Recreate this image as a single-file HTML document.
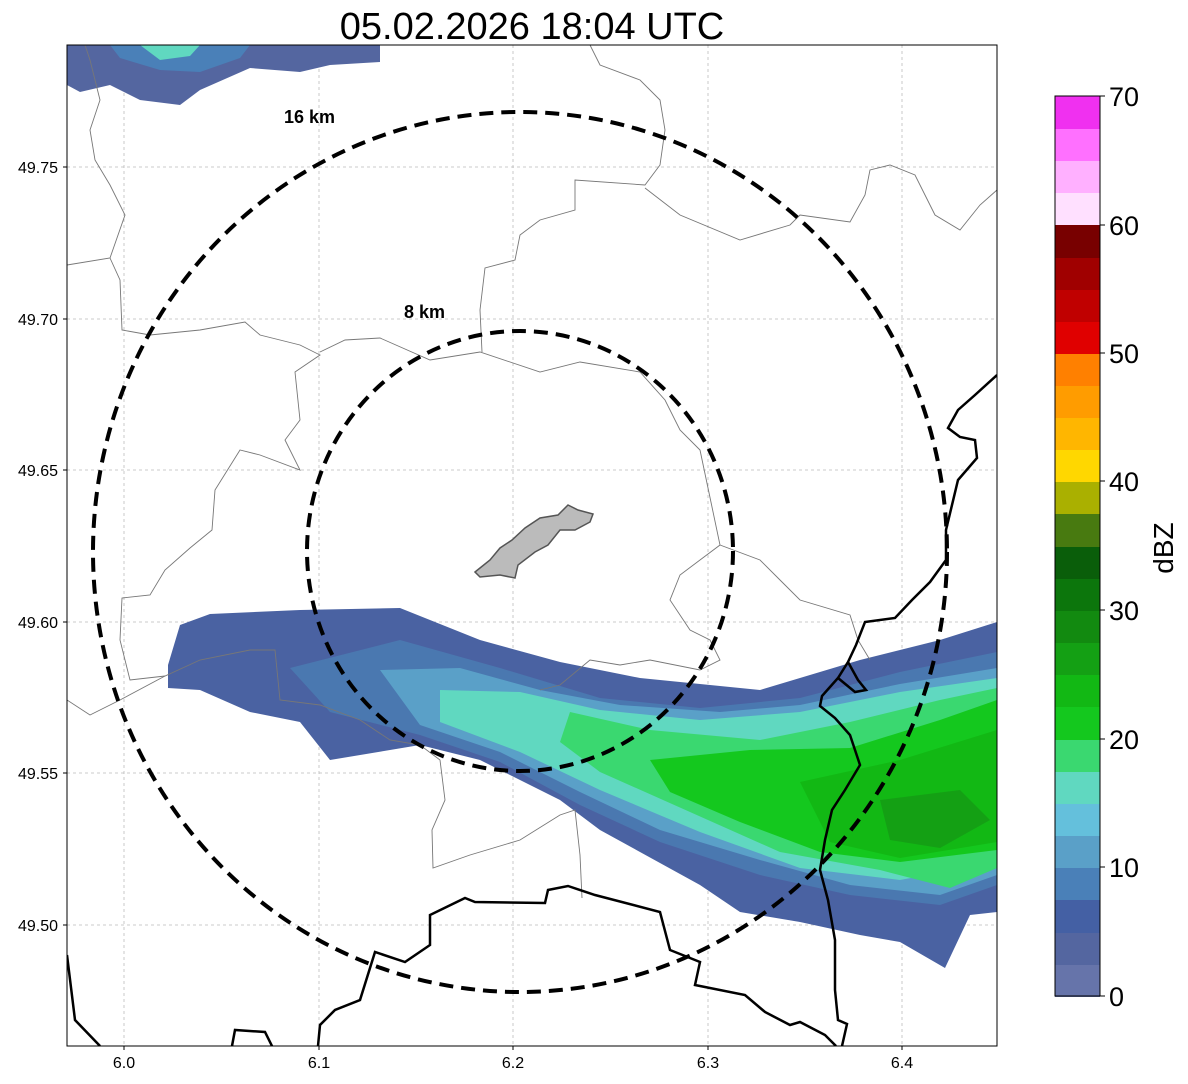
<!DOCTYPE html>
<html><head><meta charset="utf-8"><style>
html,body{margin:0;padding:0;background:#fff;}
svg{display:block;font-family:"Liberation Sans","DejaVu Sans",sans-serif;}
</style></head><body>
<svg width="1188" height="1084" viewBox="0 0 1188 1084" xmlns="http://www.w3.org/2000/svg">
<rect width="1188" height="1084" fill="#fff"/>
<text x="532" y="39" font-size="38" text-anchor="middle" fill="#000">05.02.2026 18:04 UTC</text>
<defs><clipPath id="c"><rect x="67" y="45" width="930" height="1001"/></clipPath></defs>
<g clip-path="url(#c)">
<g stroke="#bbb" stroke-width="0.8" stroke-dasharray="3,3">
<line x1="124" y1="45" x2="124" y2="1046"/><line x1="319" y1="45" x2="319" y2="1046"/><line x1="513" y1="45" x2="513" y2="1046"/><line x1="708" y1="45" x2="708" y2="1046"/><line x1="902" y1="45" x2="902" y2="1046"/>
<line x1="67" y1="167" x2="997" y2="167"/><line x1="67" y1="319" x2="997" y2="319"/><line x1="67" y1="470" x2="997" y2="470"/><line x1="67" y1="622" x2="997" y2="622"/><line x1="67" y1="773" x2="997" y2="773"/><line x1="67" y1="925" x2="997" y2="925"/>
</g>
<polygon points="67,45 380,45 380,62 330,65 300,72 250,68 200,90 180,105 140,100 110,85 80,92 67,85" fill="#5466a0"/>
<polygon points="110,45 250,45 240,58 200,72 160,70 120,58" fill="#4a80b8"/>
<polygon points="140,45 200,45 190,56 160,60" fill="#60d8c0"/>
<polygon points="168,665 180,625 210,614 300,610 400,608 480,640 560,662 640,678 760,690 860,660 940,640 997,622 997,912 970,915 945,968 900,942 860,935 800,922 740,912 700,885 600,830 560,800 480,760 420,745 330,760 300,722 250,712 200,690 168,688" fill="#4a62a2"/>
<polygon points="290,668 400,640 500,668 600,698 700,708 800,698 900,672 997,652 997,885 940,905 850,895 760,875 660,842 580,805 500,762 420,735 330,712" fill="#4a78b0"/>
<polygon points="380,670 460,668 540,690 620,705 720,712 800,705 900,684 997,668 997,875 940,895 850,885 760,860 660,830 580,792 500,752 420,725" fill="#5aa0c8"/>
<polygon points="440,690 520,692 600,710 700,720 800,712 900,692 997,678 997,862 900,880 800,868 700,832 600,790 520,752 440,722" fill="#60d8c0"/>
<polygon points="570,712 650,730 760,740 850,722 940,700 997,688 997,868 950,888 880,870 780,852 690,812 600,772 560,742" fill="#3ad870"/>
<polygon points="650,760 750,750 850,748 940,720 997,700 997,850 900,862 820,852 740,822 670,792" fill="#14c81e"/>
<polygon points="800,782 900,760 997,730 997,842 900,858 830,842" fill="#12b814"/>
<polygon points="880,800 960,790 990,820 940,848 890,840" fill="#14a014"/>
</g>
<g fill="none" stroke="#777" stroke-width="0.9" clip-path="url(#c)">
<path d="M85,45 L90,60 L100,100 L90,130 L95,160 L110,185 L125,215 L110,258 L67,265"/>
<path d="M110,258 L120,280 L122,330 L150,335 L200,330 L245,322 L260,335 L300,345 L320,355 L295,372 L300,420 L285,440 L300,470 L260,455 L240,450 L215,490 L212,530 L190,548 L165,570 L150,595 L122,598 L120,640 L130,680 L165,676 L200,660 L250,650 L275,650 L280,700 L320,705 L360,720 L390,740 L420,745 L440,760 L445,800 L432,830 L433,868 L470,855 L520,840 L560,815 L575,810 L580,855 L582,898"/>
<path d="M67,700 L90,715 L120,700 L165,676"/>
<path d="M320,352 L345,340 L380,338 L430,360 L480,352 L540,372 L580,362 L640,372 L665,400 L680,430 L700,450 L720,545 L700,560 L680,575 L670,600 L690,630 L710,640 L720,660 L700,670 L650,660 L620,665 L590,660 L560,685 L540,690"/>
<path d="M482,352 L480,310 L485,268 L515,260 L520,235 L540,220 L575,210 L575,180 L645,185 L660,165 L665,130 L660,100 L640,80 L600,65 L590,45"/>
<path d="M645,188 L680,215 L740,240 L790,225 L800,215 L850,222 L865,195 L870,170 L890,165 L915,175 L935,215 L960,230 L980,205 L997,190"/>
<path d="M720,545 L760,560 L780,580 L800,600 L850,615 L858,640 L870,660"/>
</g>
<polygon points="475,572 490,560 500,548 512,540 525,528 540,518 558,515 568,505 578,510 593,514 590,522 575,530 560,530 548,545 535,552 518,565 515,578 500,575 480,577" fill="#bbb" stroke="#555" stroke-width="1.5"/>
<g fill="none" stroke="#000" stroke-width="2.5" clip-path="url(#c)">
<path d="M997,375 L975,395 L958,410 L948,428 L960,437 L975,440 L977,458 L958,480 L946,530 L946,560 L930,582 L912,600 L895,618 L865,622 L856,645 L848,662 L838,678 L822,696 L820,706 L835,718 L850,735 L860,765 L845,790 L832,810 L825,840 L820,870 L828,900 L835,940 L835,990 L838,1020 L847,1024 L842,1046"/>
<path d="M848,662 L858,680 L866,690 L855,692 L838,678"/>
<path d="M67,955 L75,1020 L100,1046"/>
<path d="M232,1046 L235,1030 L265,1032 L272,1046"/>
<path d="M318,1046 L320,1025 L335,1010 L360,1000 L375,952 L405,962 L430,945 L430,915 L465,898 L475,902 L545,903 L548,890 L568,886 L595,895 L660,912 L670,950 L700,962 L695,985 L745,995 L765,1012 L790,1025 L800,1022 L825,1035 L836,1046"/>
</g>
<g fill="none" stroke="#000" stroke-width="4" stroke-dasharray="14,8">
<ellipse cx="520" cy="552" rx="427" ry="440"/>
<ellipse cx="520" cy="551" rx="213" ry="220"/>
</g>
<text x="284" y="123" font-size="18" font-weight="bold">16 km</text>
<text x="404" y="318" font-size="18" font-weight="bold">8 km</text>
<rect x="67" y="45" width="930" height="1001" fill="none" stroke="#000" stroke-width="1"/>
<g stroke="#000" stroke-width="1">
<line x1="124" y1="1046" x2="124" y2="1050"/><line x1="319" y1="1046" x2="319" y2="1050"/><line x1="513" y1="1046" x2="513" y2="1050"/><line x1="708" y1="1046" x2="708" y2="1050"/><line x1="902" y1="1046" x2="902" y2="1050"/>
<line x1="63" y1="167" x2="67" y2="167"/><line x1="63" y1="319" x2="67" y2="319"/><line x1="63" y1="470" x2="67" y2="470"/><line x1="63" y1="622" x2="67" y2="622"/><line x1="63" y1="773" x2="67" y2="773"/><line x1="63" y1="925" x2="67" y2="925"/>
</g>
<g font-size="16" fill="#000" text-anchor="middle">
<text x="124" y="1068">6.0</text><text x="319" y="1068">6.1</text><text x="513" y="1068">6.2</text><text x="708" y="1068">6.3</text><text x="902" y="1068">6.4</text>
</g>
<g font-size="16" fill="#000" text-anchor="end">
<text x="58" y="173">49.75</text><text x="58" y="325">49.70</text><text x="58" y="476">49.65</text><text x="58" y="628">49.60</text><text x="58" y="779">49.55</text><text x="58" y="931">49.50</text>
</g>
<g>
<rect x="1055" y="964" width="45" height="33" fill="#6674aa"/>
<rect x="1055" y="932" width="45" height="33" fill="#5466a0"/>
<rect x="1055" y="900" width="45" height="33" fill="#4460a4"/>
<rect x="1055" y="867" width="45" height="33" fill="#4a80b8"/>
<rect x="1055" y="835" width="45" height="33" fill="#5aa0c8"/>
<rect x="1055" y="803" width="45" height="33" fill="#64c0dc"/>
<rect x="1055" y="771" width="45" height="33" fill="#60d8c0"/>
<rect x="1055" y="739" width="45" height="33" fill="#3ad870"/>
<rect x="1055" y="707" width="45" height="33" fill="#14c81e"/>
<rect x="1055" y="674" width="45" height="33" fill="#12b814"/>
<rect x="1055" y="642" width="45" height="33" fill="#14a014"/>
<rect x="1055" y="610" width="45" height="33" fill="#128a10"/>
<rect x="1055" y="578" width="45" height="33" fill="#0c760c"/>
<rect x="1055" y="546" width="45" height="33" fill="#0a5e0a"/>
<rect x="1055" y="514" width="45" height="33" fill="#487a10"/>
<rect x="1055" y="481" width="45" height="33" fill="#aab000"/>
<rect x="1055" y="449" width="45" height="33" fill="#ffd700"/>
<rect x="1055" y="417" width="45" height="33" fill="#ffb600"/>
<rect x="1055" y="385" width="45" height="33" fill="#ff9c00"/>
<rect x="1055" y="353" width="45" height="33" fill="#ff8000"/>
<rect x="1055" y="321" width="45" height="33" fill="#e00000"/>
<rect x="1055" y="289" width="45" height="33" fill="#c00000"/>
<rect x="1055" y="257" width="45" height="33" fill="#a00000"/>
<rect x="1055" y="225" width="45" height="33" fill="#780000"/>
<rect x="1055" y="192" width="45" height="33" fill="#ffe0ff"/>
<rect x="1055" y="160" width="45" height="33" fill="#ffb0ff"/>
<rect x="1055" y="128" width="45" height="33" fill="#ff70ff"/>
<rect x="1055" y="96" width="45" height="33" fill="#f030f0"/>
</g>
<rect x="1055" y="96" width="45" height="900" fill="none" stroke="#000" stroke-width="1"/>
<g stroke="#000"><line x1="1100" y1="996" x2="1105" y2="996"/><line x1="1100" y1="867" x2="1105" y2="867"/><line x1="1100" y1="739" x2="1105" y2="739"/><line x1="1100" y1="610" x2="1105" y2="610"/><line x1="1100" y1="481" x2="1105" y2="481"/><line x1="1100" y1="353" x2="1105" y2="353"/><line x1="1100" y1="225" x2="1105" y2="225"/><line x1="1100" y1="96" x2="1105" y2="96"/></g>
<g font-size="27" fill="#000">
<text x="1109" y="1006">0</text><text x="1109" y="877">10</text><text x="1109" y="749">20</text><text x="1109" y="620">30</text><text x="1109" y="491">40</text><text x="1109" y="363">50</text><text x="1109" y="235">60</text><text x="1109" y="106">70</text>
</g>
<text x="1173" y="548" font-size="28" text-anchor="middle" transform="rotate(-90 1173 548)">dBZ</text>
</svg>
</body></html>
